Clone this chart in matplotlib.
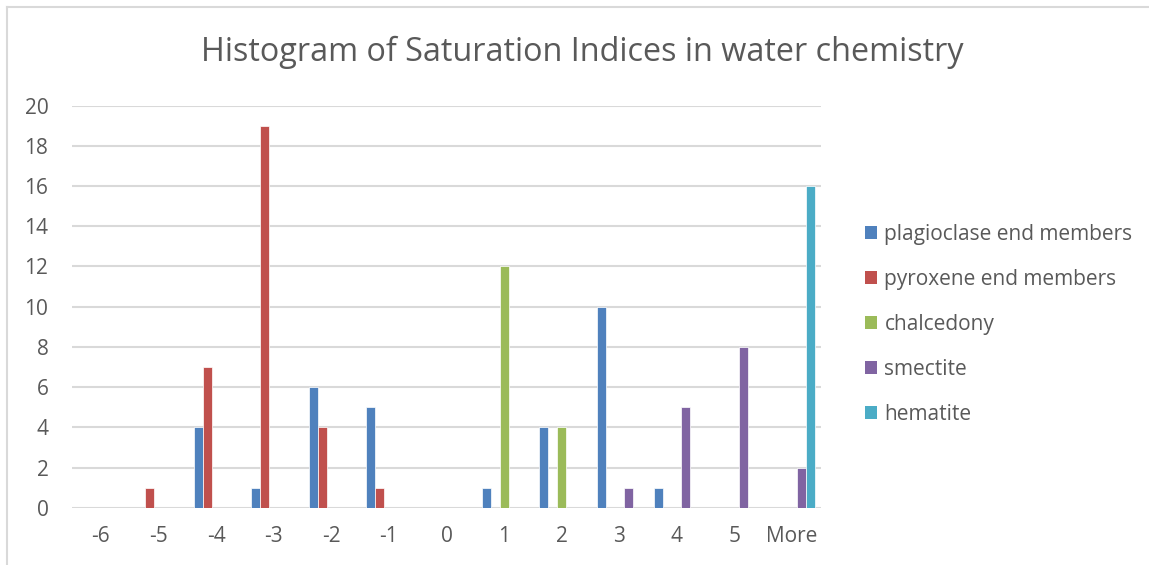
import matplotlib
import matplotlib.pyplot as plt
import numpy as np
from matplotlib.patches import Patch
from matplotlib.lines import Line2D

matplotlib.use('Agg')

# Histogram bins
bins = ['-6', '-5', '-4', '-3', '-2', '-1', '0', '1', '2', '3', '4', '5', 'More']

# Frequencies per series (zeros are not drawn as visible bars)
plagioclase = [0, 0, 4, 1, 6, 5, 0, 1, 4, 10, 1, 0, 0]
pyroxene = [0, 1, 7, 19, 4, 1, 0, 0, 0, 0, 0, 0, 0]
chalcedony = [0, 0, 0, 0, 0, 0, 0, 12, 4, 0, 0, 0, 0]
smectite = [0, 0, 0, 0, 0, 0, 0, 0, 0, 1, 5, 8, 2]
hematite = [0, 0, 0, 0, 0, 0, 0, 0, 0, 0, 0, 0, 16]

series_names = ['plagioclase end members', 'pyroxene end members',
                'chalcedony', 'smectite', 'hematite']
series_values = [plagioclase, pyroxene, chalcedony, smectite, hematite]
colors = ['#4F81BD', '#C0504D', '#9BBB59', '#8064A2', '#4BACC6']

text_color = '#595959'
plt.rcParams['font.family'] = ['Open Sans', 'DejaVu Sans']

fig = plt.figure(figsize=(11.49, 5.65), dpi=100)
ax = fig.add_axes([0.0627, 0.1014, 0.6518, 0.7116])

x = np.arange(len(bins))
width = 0.156
for i, (name, vals) in enumerate(zip(series_names, series_values)):
    offset = (i - 2) * width
    ax.bar(x + offset, vals, width, color=colors[i], edgecolor='white',
           linewidth=0.5, label=name, zorder=3)

ax.set_xlim(-0.5, len(bins) - 0.5)
ax.set_ylim(0, 20)
ax.set_yticks(np.arange(0, 21, 2))
ax.set_xticks(x)
ax.set_xticklabels(bins)
ax.tick_params(axis='both', length=0, labelsize=15, colors=text_color)
ax.tick_params(axis='y', pad=17)
ax.tick_params(axis='x', pad=13)
ax.grid(axis='y', color='#D9D9D9', linewidth=1.5, zorder=0)
for s in ax.spines.values():
    s.set_visible(False)

fig.suptitle('Histogram of Saturation Indices in water chemistry',
             x=0.507, y=0.908, va='center', fontsize=23.3, color=text_color)

handles = [Patch(facecolor=c, edgecolor='none') for c in colors]
fig.legend(handles, series_names, loc='center left',
           bbox_to_anchor=(0.7435, 0.426), frameon=False, fontsize=15,
           labelcolor=text_color, handlelength=0.6, handleheight=0.6,
           handletextpad=0.35, labelspacing=1.15, borderpad=0)

# chart border (light grey, top and left visible in the reference)
fig.add_artist(Line2D([0.0065, 1.0], [0.988, 0.988], color='#D9D9D9',
                      linewidth=1.5, transform=fig.transFigure))
fig.add_artist(Line2D([0.0065, 0.0065], [0.0, 0.988], color='#D9D9D9',
                      linewidth=1.5, transform=fig.transFigure))

fig.savefig('out.png', dpi=100, facecolor='white')
